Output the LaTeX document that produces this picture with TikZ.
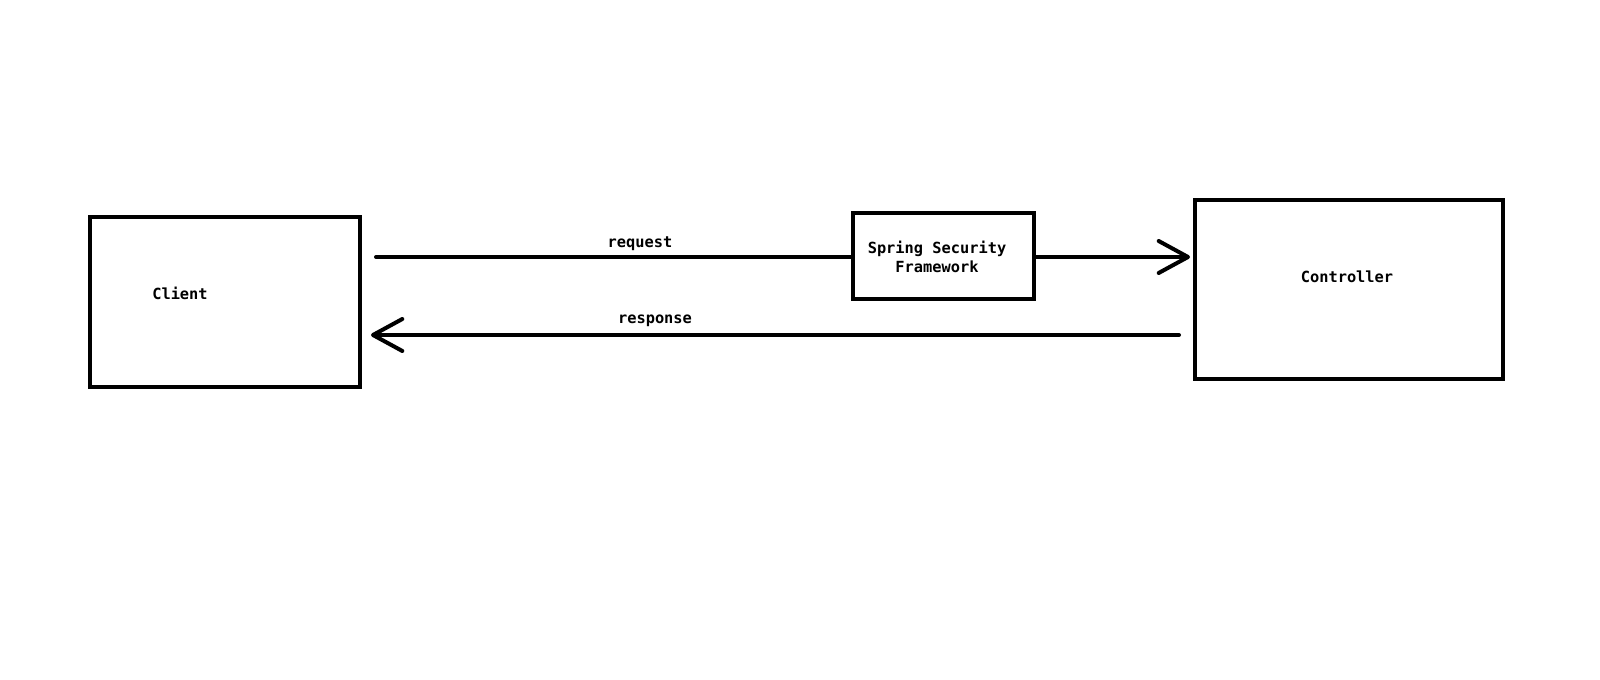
\documentclass[tikz,border=0pt]{standalone}
\usepackage{fontspec}
\setmonofont{DejaVu Sans Mono}
\usetikzlibrary{arrows.meta}
\tikzset{
  px/.style={x=0.75pt,y=-0.75pt},
  box/.style={draw=black,line width=3pt,inner sep=0pt},
  lbl/.style={font=\ttfamily\bfseries\fontsize{11.5}{14}\selectfont,inner sep=0pt,align=center},
  conn/.style={line width=3pt,line cap=round},
  tip/.style={-{Straight Barb[length=22pt,width=24pt,line width=3pt,round]}}
}
\begin{document}
\begin{tikzpicture}[px]
\useasboundingbox (0,0) rectangle (1600,680);
\node[box,minimum width=270*0.75pt,minimum height=170*0.75pt] (client) at (225,302) {};
\node[lbl] (clientlabel) at (180,293) {Client};
\node[box,minimum width=181*0.75pt,minimum height=86*0.75pt] (spring) at (943.5,256) {};
\node[lbl] (springlabel) at (937,257) {Spring Security\\Framework};
\node[box,minimum width=308*0.75pt,minimum height=179*0.75pt] (controller) at (1349,289.5) {};
\node[lbl] (controllerlabel) at (1347,277) {Controller};
\coordinate (reqstart) at (376,257);
\coordinate (reqend) at (1190,257);
\coordinate (resstart) at (1179,335);
\coordinate (resend) at (371,335);
\draw[conn] (reqstart) -- (spring.west |- reqstart);
\draw[conn,tip] (spring.east |- reqend) -- (reqend);
\draw[conn,tip] (resstart) -- (resend);
\node[lbl] (reqlabel) at (640,244) {request};
\node[lbl] (reslabel) at (655,321) {response};
\end{tikzpicture}
\end{document}
